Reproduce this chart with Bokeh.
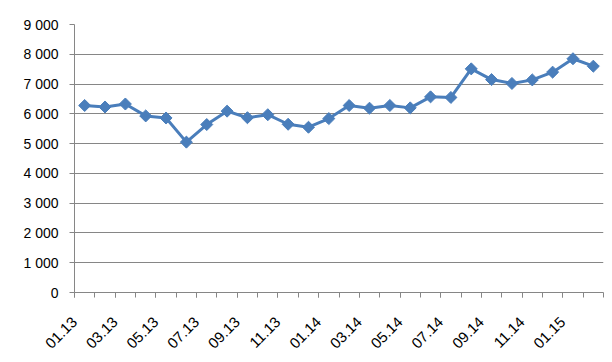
import math
from bokeh.plotting import figure
from bokeh.models import Range1d, FixedTicker, ColumnDataSource
from bokeh.embed import file_html
from bokeh.resources import INLINE

months = ["01.13", "02.13", "03.13", "04.13", "05.13", "06.13", "07.13", "08.13",
          "09.13", "10.13", "11.13", "12.13", "01.14", "02.14", "03.14", "04.14",
          "05.14", "06.14", "07.14", "08.14", "09.14", "10.14", "11.14", "12.14",
          "01.15", "02.15"]
values = [6280, 6230, 6330, 5930, 5860, 5050, 5640, 6090, 5870, 5970, 5650, 5550,
          5840, 6280, 6190, 6280, 6200, 6570, 6550, 7510, 7150, 7020, 7140, 7400,
          7850, 7600]
y_ticks = [0, 1000, 2000, 3000, 4000, 5000, 6000, 7000, 8000, 9000]
y_labels = ["0", "1 000", "2 000", "3 000", "4 000", "5 000", "6 000", "7 000", "8 000", "9 000"]

n = len(months)
xs = [i + 0.5 for i in range(n)]
src = ColumnDataSource(dict(x=xs, y=values, m=months))

p = figure(width=612, height=362, output_backend="svg", toolbar_location=None,
           x_range=Range1d(0, n), y_range=Range1d(0, 9000),
           min_border_left=74, min_border_right=9, min_border_top=24, min_border_bottom=70)
p.outline_line_color = None
p.background_fill_color = "white"
p.border_fill_color = "white"

blue = "#4A7EBB"
p.line("x", "y", source=src, line_color=blue, line_width=3)
p.scatter("x", "y", source=src, marker="square", angle=math.pi / 4, size=8.5,
          fill_color=blue, line_color=blue)

grey = "#868686"
font = "Liberation Sans"

# y axis
p.yaxis.ticker = FixedTicker(ticks=y_ticks)
p.yaxis.major_label_overrides = {t: l for t, l in zip(y_ticks, y_labels)}
p.yaxis.axis_line_color = grey
p.yaxis.major_tick_line_color = grey
p.yaxis.major_tick_out = 5
p.yaxis.major_tick_in = 0
p.yaxis.minor_tick_line_color = None
p.yaxis.major_label_standoff = 11
p.yaxis.major_label_text_font = font
p.yaxis.major_label_text_font_size = "14px"
p.yaxis.major_label_text_color = "#000000"

# x axis: tick marks between categories, labels on every other boundary
label_pos = list(range(0, n, 2))
p.xaxis.ticker = FixedTicker(ticks=label_pos, minor_ticks=list(range(n + 1)))
p.xaxis.major_label_overrides = {i: months[i] for i in label_pos}
p.xaxis.axis_line_color = grey
p.xaxis.major_tick_line_color = grey
p.xaxis.major_tick_out = 5
p.xaxis.major_tick_in = 0
p.xaxis.minor_tick_line_color = grey
p.xaxis.minor_tick_out = 5
p.xaxis.minor_tick_in = 0
p.xaxis.major_label_orientation = math.pi / 4
p.xaxis.major_label_standoff = 22
p.xaxis.major_label_text_font = font
p.xaxis.major_label_text_font_size = "15px"
p.xaxis.major_label_text_color = "#000000"

p.xgrid.grid_line_color = None
p.ygrid.ticker = FixedTicker(ticks=y_ticks)
p.ygrid.grid_line_color = grey
p.ygrid.grid_line_width = 1

open("out.html", "w").write(file_html(p, INLINE))
